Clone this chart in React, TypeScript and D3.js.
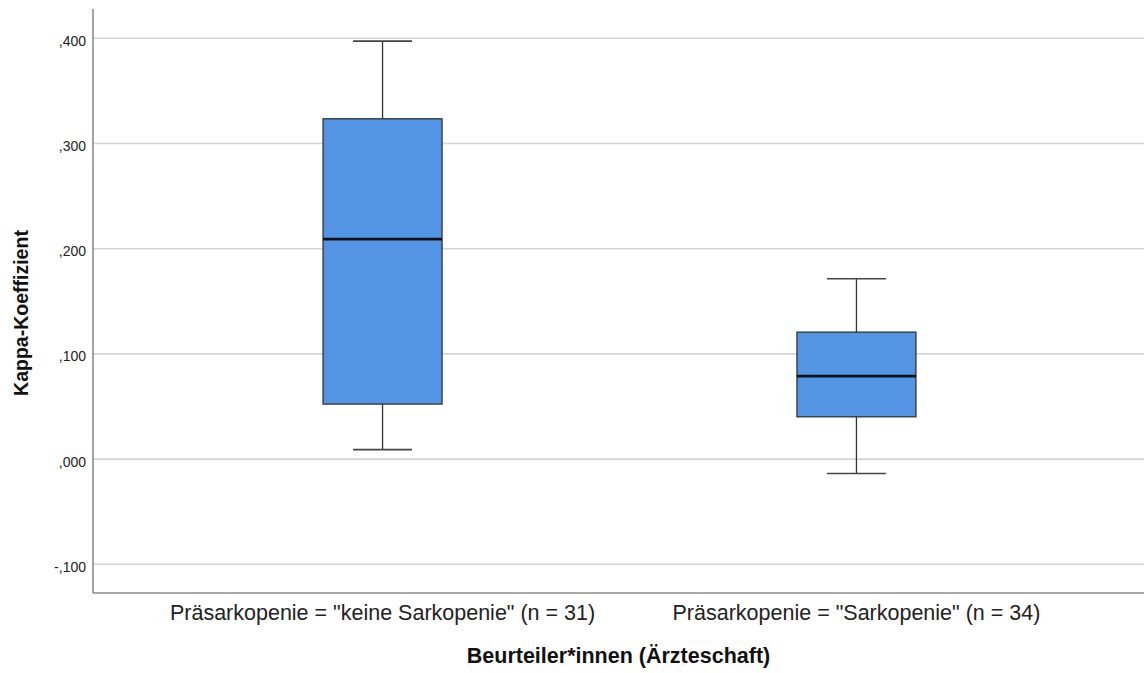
import React, { useEffect, useRef } from 'react';
import * as d3 from 'd3';

// Gruppen und Boxplot-Kennwerte
const categories = [
  'Präsarkopenie = "keine Sarkopenie" (n = 31)',
  'Präsarkopenie = "Sarkopenie" (n = 34)',
];
const whiskerLow = [0.009, -0.0137];
const q1 = [0.0523, 0.0402];
const median = [0.2091, 0.0789];
const q3 = [0.3235, 0.1207];
const whiskerHigh = [0.3973, 0.1714];

const yTicks = [-0.1, 0.0, 0.1, 0.2, 0.3, 0.4];

const App = () => {
  const svgRef = useRef<SVGSVGElement>(null);

  useEffect(() => {
    const svg = d3.select(svgRef.current);
    svg.selectAll('*').remove();

    const width = 1144;
    const height = 673;
    const margin = { left: 93, right: -2, top: 9, bottom: 80 };
    const font = 'Arial, "Liberation Sans", sans-serif';

    const x = d3.scalePoint<string>()
      .domain(categories)
      .range([margin.left, width - margin.right])
      .padding(0.611);

    const y = d3.scaleLinear()
      .domain([-0.1, 0.4])
      .range([564.3, 38.3]);

    const bottomY = height - margin.bottom;

    // Gitterlinien
    svg.append('g')
      .selectAll('line')
      .data(yTicks)
      .join('line')
      .attr('x1', margin.left)
      .attr('x2', width)
      .attr('y1', d => y(d))
      .attr('y2', d => y(d))
      .attr('stroke', '#d4d4d4')
      .attr('stroke-width', 1.6);

    // Achsenlinien
    svg.append('line')
      .attr('x1', margin.left).attr('x2', margin.left)
      .attr('y1', margin.top).attr('y2', bottomY)
      .attr('stroke', '#8c8c8c').attr('stroke-width', 1.6);
    svg.append('line')
      .attr('x1', margin.left).attr('x2', width)
      .attr('y1', bottomY).attr('y2', bottomY)
      .attr('stroke', '#8c8c8c').attr('stroke-width', 1.6);

    // Tick-Beschriftungen (deutsches SPSS-Format)
    const fmt = (v: number) => {
      const s = d3.format('.3f')(Math.abs(v)).replace(/^0/, '').replace('.', ',');
      return (v < 0 ? '-' : '') + s;
    };
    svg.append('g')
      .selectAll('text')
      .data(yTicks)
      .join('text')
      .attr('x', 86)
      .attr('y', d => y(d) + 7.5)
      .attr('text-anchor', 'end')
      .attr('font-family', font)
      .attr('font-size', 14)
      .attr('fill', '#222')
      .text(d => fmt(d));

    const boxW = 119;
    const capW = 59;
    const idx = d3.range(categories.length);
    const g = svg.append('g');

    // Whisker
    g.selectAll('line.whisk')
      .data(idx)
      .join('line')
      .attr('class', 'whisk')
      .attr('x1', i => x(categories[i])!)
      .attr('x2', i => x(categories[i])!)
      .attr('y1', i => y(whiskerHigh[i]))
      .attr('y2', i => y(whiskerLow[i]))
      .attr('stroke', '#333')
      .attr('stroke-width', 1.3);

    const caps = [...idx.map(i => ({ i, v: whiskerHigh[i] })), ...idx.map(i => ({ i, v: whiskerLow[i] }))];
    g.selectAll('line.cap')
      .data(caps)
      .join('line')
      .attr('class', 'cap')
      .attr('x1', d => x(categories[d.i])! - capW / 2)
      .attr('x2', d => x(categories[d.i])! + capW / 2)
      .attr('y1', d => y(d.v))
      .attr('y2', d => y(d.v))
      .attr('stroke', '#444')
      .attr('stroke-width', 1.6);

    // Boxen
    g.selectAll('rect')
      .data(idx)
      .join('rect')
      .attr('x', i => x(categories[i])! - boxW / 2)
      .attr('width', boxW)
      .attr('y', i => y(q3[i]))
      .attr('height', i => y(q1[i]) - y(q3[i]))
      .attr('fill', '#5494e5')
      .attr('stroke', '#333')
      .attr('stroke-width', 1.3);

    // Median
    g.selectAll('line.med')
      .data(idx)
      .join('line')
      .attr('class', 'med')
      .attr('x1', i => x(categories[i])! - boxW / 2)
      .attr('x2', i => x(categories[i])! + boxW / 2)
      .attr('y1', i => y(median[i]))
      .attr('y2', i => y(median[i]))
      .attr('stroke', '#111')
      .attr('stroke-width', 2.6);

    // Kategorien
    svg.append('g')
      .selectAll('text')
      .data(categories)
      .join('text')
      .attr('x', d => x(d)!)
      .attr('y', 620)
      .attr('text-anchor', 'middle')
      .attr('font-family', font)
      .attr('font-size', 21.5)
      .attr('fill', '#222')
      .text(d => d);

    // Achsentitel
    svg.append('text')
      .attr('x', (margin.left + width) / 2)
      .attr('y', 663)
      .attr('text-anchor', 'middle')
      .attr('font-family', font)
      .attr('font-size', 21.5)
      .attr('font-weight', 'bold')
      .attr('fill', '#111')
      .text('Beurteiler*innen (Ärzteschaft)');

    svg.append('text')
      .attr('transform', 'translate(28, 313) rotate(-90)')
      .attr('text-anchor', 'middle')
      .attr('font-family', font)
      .attr('font-size', 19.5)
      .attr('font-weight', 'bold')
      .attr('fill', '#111')
      .text('Kappa-Koeffizient');
  }, []);

  return (
    <svg
      ref={svgRef}
      width={1144}
      height={673}
      style={{ position: 'absolute', left: 0, top: 0, background: '#fff' }}
    />
  );
};

export default App;
